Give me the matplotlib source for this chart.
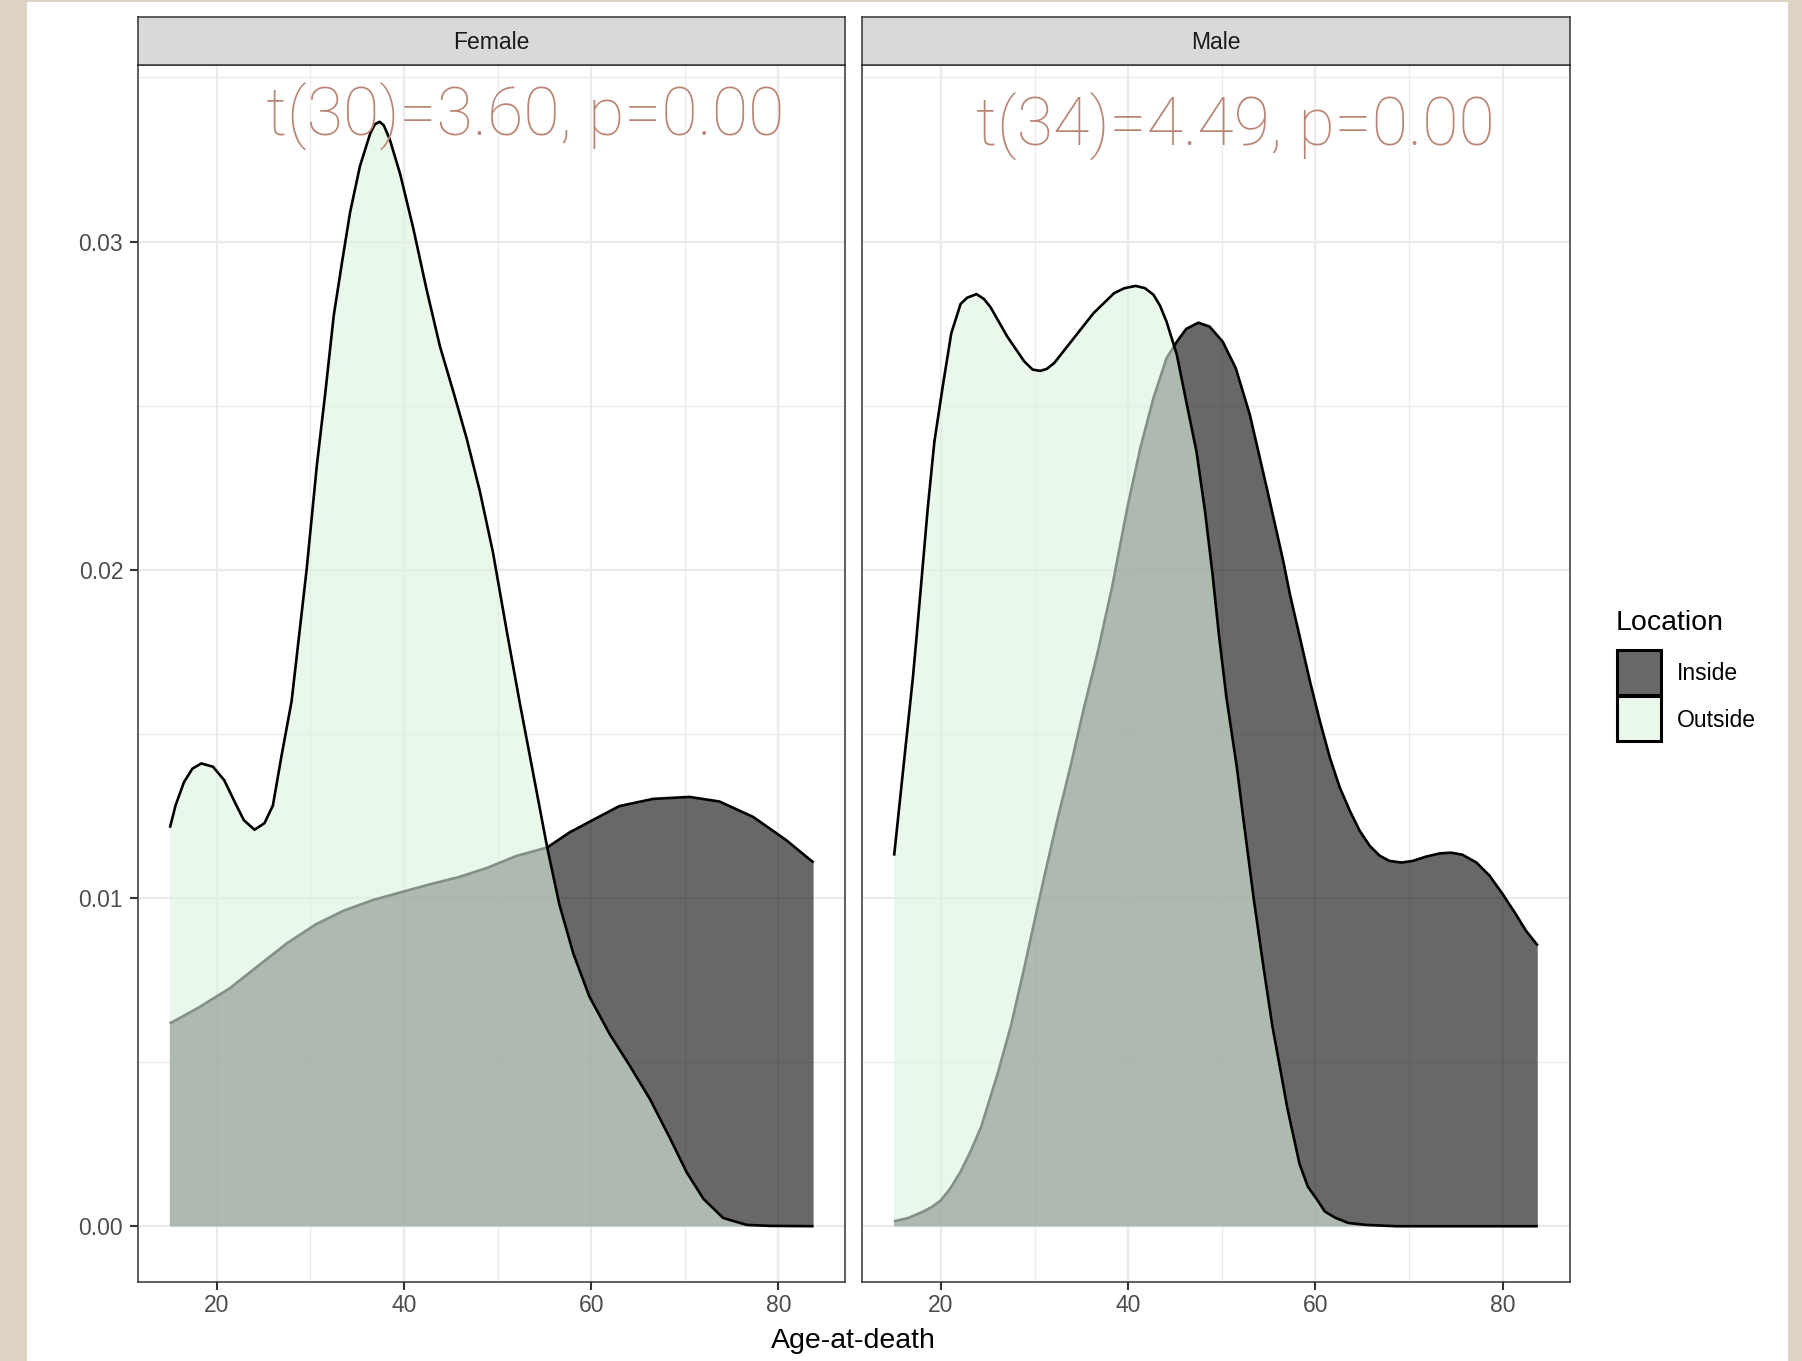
import matplotlib.pyplot as plt
from matplotlib.colors import to_rgba
from matplotlib.patches import Rectangle

plt.rcParams['font.family'] = ['Liberation Sans', 'DejaVu Sans']

# Density curves (age-at-death, density)
female_out_x = [15.0, 15.6, 16.5, 17.4, 18.35, 19.6, 20.8, 22.0, 22.9, 24.04, 25.1, 26.0, 26.9,
                28.0, 29.6, 30.7, 31.6, 32.5, 33.4, 34.25, 35.3, 36.4, 36.9, 37.4, 37.85, 38.5,
                39.6, 41.0, 42.4, 43.85, 45.3, 46.7, 48.1, 49.5, 51.0, 52.4, 53.6, 55.3, 56.6,
                58.1, 59.8, 62.0, 64.1, 66.3, 68.4, 70.2, 72.0, 74.1, 76.6, 79.0, 83.75]
female_out_y = [0.01214, 0.01282, 0.01353, 0.01394, 0.0141, 0.0140, 0.01359, 0.01288, 0.01237,
                0.01208, 0.01228, 0.01282, 0.0143, 0.0160, 0.0200, 0.0232, 0.0254, 0.02775,
                0.0294, 0.0309, 0.0323, 0.0333, 0.03358, 0.03365, 0.03354, 0.0331, 0.03205,
                0.0304, 0.02856, 0.0268, 0.0254, 0.0240, 0.0224, 0.02054, 0.0181, 0.0159,
                0.0141, 0.01154, 0.0098, 0.0083, 0.0070, 0.00584, 0.0049, 0.00386, 0.00269,
                0.00164, 0.00083, 0.00025, 0.00004, 0.00001, 0.0]

female_in_x = [15.0, 18.0, 21.4, 24.5, 27.5, 30.6, 33.6, 36.7, 40.0, 42.8, 45.9, 48.9, 52.0,
               55.3, 57.7, 60.0, 63.0, 66.6, 70.5, 73.7, 77.3, 80.8, 83.75]
female_in_y = [0.00618, 0.00665, 0.00725, 0.00795, 0.00862, 0.0092, 0.00962, 0.00994, 0.0102,
               0.01042, 0.01064, 0.01092, 0.01128, 0.01154, 0.0120, 0.01235, 0.0128, 0.01302,
               0.01308, 0.01294, 0.01247, 0.01177, 0.01108]

male_out_x = [15.0, 16.0, 17.0, 17.35, 18.6, 19.3, 20.2, 21.1, 22.1, 22.8, 23.8, 24.6, 25.3,
              27.1, 28.9, 29.8, 30.6, 31.3, 32.1, 34.2, 36.3, 38.5, 39.6, 40.8, 41.8, 42.7,
              43.4, 44.1, 45.2, 46.2, 47.3, 48.2, 49.0, 49.7, 50.5, 51.6, 52.4, 53.4, 54.4,
              55.4, 56.3, 57.0, 58.3, 59.2, 60.2, 61.0, 62.1, 63.5, 65.4, 68.6, 83.75]
male_out_y = [0.01129, 0.0140, 0.0167, 0.0178, 0.0219, 0.0239, 0.0256, 0.0272, 0.0281, 0.02829,
              0.0284, 0.02825, 0.0280, 0.0271, 0.02635, 0.0261, 0.02606, 0.02612, 0.0263,
              0.02706, 0.02782, 0.02843, 0.02858, 0.02865, 0.02858, 0.02838, 0.02805, 0.02756,
              0.02655, 0.02513, 0.0236, 0.0218, 0.0199, 0.0180, 0.0161, 0.0140, 0.0122, 0.0100,
              0.0080, 0.0061, 0.0047, 0.0036, 0.0019, 0.0012, 0.0008, 0.00045, 0.00026, 0.0001,
              0.00004, 0.0, 0.0]

male_in_x = [15.0, 16.5, 17.9, 19.0, 20.0, 21.0, 22.1, 23.2, 24.3, 26.05, 27.5, 28.9, 29.95,
             31.0, 32.4, 33.9, 35.3, 36.7, 38.3, 39.9, 41.3, 42.7, 44.1, 45.2, 46.2, 47.5, 48.7,
             50.1, 51.5, 53.0, 54.8, 56.57, 57.28, 58.35, 59.41, 60.48, 61.54, 62.6, 63.67,
             64.73, 65.8, 66.86, 67.9, 69.2, 70.4, 71.8, 73.3, 74.5, 75.7, 77.2, 78.6, 80.0,
             81.4, 82.5, 83.75]
male_in_y = [0.00015, 0.00025, 0.00042, 0.00058, 0.00079, 0.00115, 0.00166, 0.0023, 0.00303,
             0.00464, 0.00613, 0.00787, 0.00924, 0.0106, 0.01234, 0.01408, 0.01582, 0.01743,
             0.0195, 0.02188, 0.02371, 0.02523, 0.02645, 0.02695, 0.02734, 0.02753, 0.02741,
             0.02695, 0.02614, 0.02472, 0.0225, 0.02026, 0.01925, 0.01793, 0.01661, 0.01539,
             0.01428, 0.01337, 0.01266, 0.01205, 0.01159, 0.01129, 0.01113, 0.01108, 0.01113,
             0.01126, 0.01136, 0.01138, 0.01132, 0.01108, 0.01068, 0.01012, 0.00951, 0.009,
             0.00855]

panel_names = ['Female', 'Male']
location_labels = ['Inside', 'Outside']
test_labels = ['t(30)=3.60, p=0.00', 't(34)=4.49, p=0.00']
x_ticks = [20, 40, 60, 80]
y_ticks = [0.00, 0.01, 0.02, 0.03]
y_tick_labels = ['0.00', '0.01', '0.02', '0.03']

inside_color = '#070203'
outside_color = '#dcf2df'
fill_alpha = 0.6
text_color = '#ba8575'

W, H = 1802, 1361


def fx(px):
    return px / W


def fy(py):
    return 1 - py / H


fig = plt.figure(figsize=(W / 100, H / 100), dpi=100)
fig.patch.set_facecolor('#ddd4c3')
fig.add_artist(Rectangle((fx(27), 0), fx(1788) - fx(27), fy(2), transform=fig.transFigure,
                         facecolor='white', edgecolor='none', zorder=-5))

panel_top, panel_bottom, strip_top = 64.7, 1282, 17
panel_lefts = [137.8, 862]
panel_width = 707.5

curves = [((female_in_x, female_in_y), (female_out_x, female_out_y)),
          ((male_in_x, male_in_y), (male_out_x, male_out_y))]
label_pos = [(52.9, 0.03325), (51.45, 0.03294)]

for i, name in enumerate(panel_names):
    left = panel_lefts[i]
    ax = fig.add_axes([fx(left), fy(panel_bottom), panel_width / W, (panel_bottom - panel_top) / H])
    ax.set_xlim(11.57, 87.14)
    ax.set_ylim(-0.0017, 0.03539)
    ax.set_axisbelow(True)

    (ix, iy), (ox, oy) = curves[i]
    ax.fill_between(ix, 0, iy, facecolor=to_rgba(inside_color, fill_alpha), linewidth=0, zorder=2)
    ax.plot(ix, iy, color='black', lw=1.9, zorder=3, solid_capstyle='butt', solid_joinstyle='round')
    ax.fill_between(ox, 0, oy, facecolor=to_rgba(outside_color, fill_alpha), linewidth=0, zorder=4)
    ax.plot(ox, oy, color='black', lw=1.9, zorder=5, solid_capstyle='butt', solid_joinstyle='round')

    ax.text(label_pos[i][0], label_pos[i][1], test_labels[i], ha='center', va='baseline',
            fontsize=47.8, color=text_color, family=['Roboto', 'Open Sans', 'DejaVu Sans'],
            fontweight='light', zorder=6)

    ax.set_xticks(x_ticks)
    ax.set_xticks([30, 50, 70], minor=True)
    ax.set_yticks(y_ticks)
    ax.set_yticks([0.005, 0.015, 0.025, 0.035], minor=True)
    ax.grid(which='major', color='#ebebeb', lw=1.6)
    ax.grid(which='minor', color='#ebebeb', lw=0.9)
    ax.tick_params(which='minor', length=0)
    ax.tick_params(which='major', length=5.5, width=1.5, color='#333333',
                   labelsize=16.5, labelcolor='#4d4d4d')
    ax.tick_params(axis='x', pad=3.5)
    ax.tick_params(axis='y', pad=5)
    ax.set_xticklabels([str(t) for t in x_ticks])
    if i == 0:
        ax.set_yticklabels(y_tick_labels)
    else:
        ax.tick_params(axis='y', left=False, labelleft=False)
    for sp in ax.spines.values():
        sp.set_color('#333333')
        sp.set_linewidth(1.1)

    strip = fig.add_axes([fx(left), fy(panel_top), panel_width / W, (panel_top - strip_top) / H])
    strip.set_facecolor('#d9d9d9')
    strip.set_xticks([])
    strip.set_yticks([])
    for sp in strip.spines.values():
        sp.set_color('#333333')
        sp.set_linewidth(1.1)
    strip.text(0.5, 0.47, name, ha='center', va='center', fontsize=16.5, color='#1a1a1a',
               transform=strip.transAxes)

fig.text(fx(853.2), fy(1348), 'Age-at-death', ha='center', va='baseline', fontsize=20.5,
         color='black')

# legend, drawn by hand so the keys keep ggplot's square size
fig.text(fx(1616), fy(630), 'Location', ha='left', va='baseline', fontsize=20.5, color='black')
key_colors = [inside_color, outside_color]
key_tops = [650, 696]
label_baselines = [680.5, 727]
for lab, col, top, base in zip(location_labels, key_colors, key_tops, label_baselines):
    fig.add_artist(Rectangle((fx(1617), fy(top + 45)), 44 / W, 45 / H, transform=fig.transFigure,
                             facecolor=to_rgba(col, fill_alpha), edgecolor='black', linewidth=2.2))
    fig.text(fx(1677), fy(base), lab, ha='left', va='baseline', fontsize=16.5, color='black')

fig.savefig('out.png', dpi=100, facecolor=fig.get_facecolor())
